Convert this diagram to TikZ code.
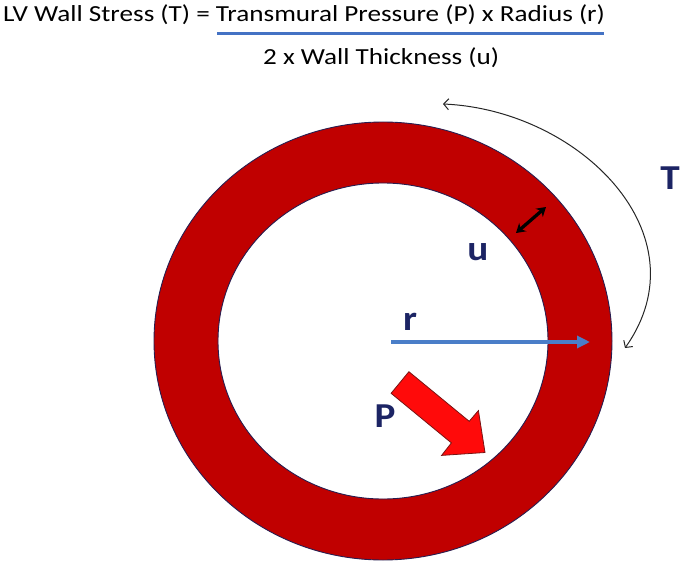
\documentclass[tikz,border=0pt]{standalone}
\usepackage{fontspec}
\setmainfont{Carlito}
\newfontfamily\titlefont[FakeStretch=1.18]{Carlito}
\newfontfamily\labelfont[FakeStretch=1.12]{Carlito}
\usetikzlibrary{arrows.meta}
\definecolor{ringred}{RGB}{192,0,0}
\definecolor{ringedge}{RGB}{40,30,80}
\definecolor{labelblue}{RGB}{28,36,100}
\definecolor{lineblue}{RGB}{68,114,196}
\definecolor{arrowblue}{RGB}{74,126,200}
\definecolor{pred}{RGB}{255,10,10}
\definecolor{pedge}{RGB}{120,20,20}
\tikzset{
  titletext/.style={font=\titlefont\fontsize{23}{27}\selectfont, inner sep=0pt, text=black},
  biglabel/.style={font=\labelfont\bfseries\fontsize{35}{40}\selectfont, inner sep=0pt, text=labelblue, anchor=base},
}
\begin{document}
\begin{tikzpicture}[x=1pt,y=-1pt]
\useasboundingbox (0,0) rectangle (680,564);
% title
\node[titletext, anchor=base west] (eq1) at (3,22) {LV Wall Stress (T) = Transmural Pressure (P) x Radius (r)};
\node[titletext, anchor=base west] (eq2) at (263,65) {2 x Wall Thickness (u)};
\coordinate (fl) at (217,34);
\coordinate (fr) at (604,34);
\draw[lineblue, line width=3pt] (fl) -- (fr);
% ring
\coordinate (c) at (383,341);
\fill[ringred, draw=ringedge, line width=0.9pt, even odd rule]
  (c) ellipse [x radius=229pt, y radius=219pt]
  (c) ellipse [x radius=165pt, y radius=158pt];
% radius arrow
\coordinate (r0) at (391,342);
\coordinate (r1) at (590,342);
\draw[arrowblue, line width=3.2pt, -{Triangle[length=13pt,width=12pt]}] (r0) -- (r1);
% thickness arrow
\coordinate (u0) at (516,233);
\coordinate (u1) at (546,207);
\draw[black, line width=3.3pt, {Stealth[length=9pt,width=11pt]}-{Stealth[length=9pt,width=11pt]}] (u0) -- (u1);
% tension arc
\coordinate (t0) at (443,104);
\coordinate (t1) at (625,348);
\draw[black!85, line width=1pt, {Straight Barb[length=5pt,width=11pt]}-{Straight Barb[length=5pt,width=11pt]}]
  (t0) .. controls (580,110) and (705,235) .. (t1);
% pressure arrow
\fill[pred, draw=pedge, line width=0.8pt]
  (391.1,393.3) -- (408.9,371.7) -- (469.2,421.3) -- (478.4,410.6)
  -- (485,452.5) -- (441.6,455.4) -- (451.4,442.9) -- cycle;
% labels
\node[biglabel] (T) at (670,190) {T};
\node[biglabel] (u) at (478,260) {u};
\node[biglabel] (r) at (410,330) {r};
\node[biglabel] (P) at (385,427) {P};
\end{tikzpicture}
\end{document}
